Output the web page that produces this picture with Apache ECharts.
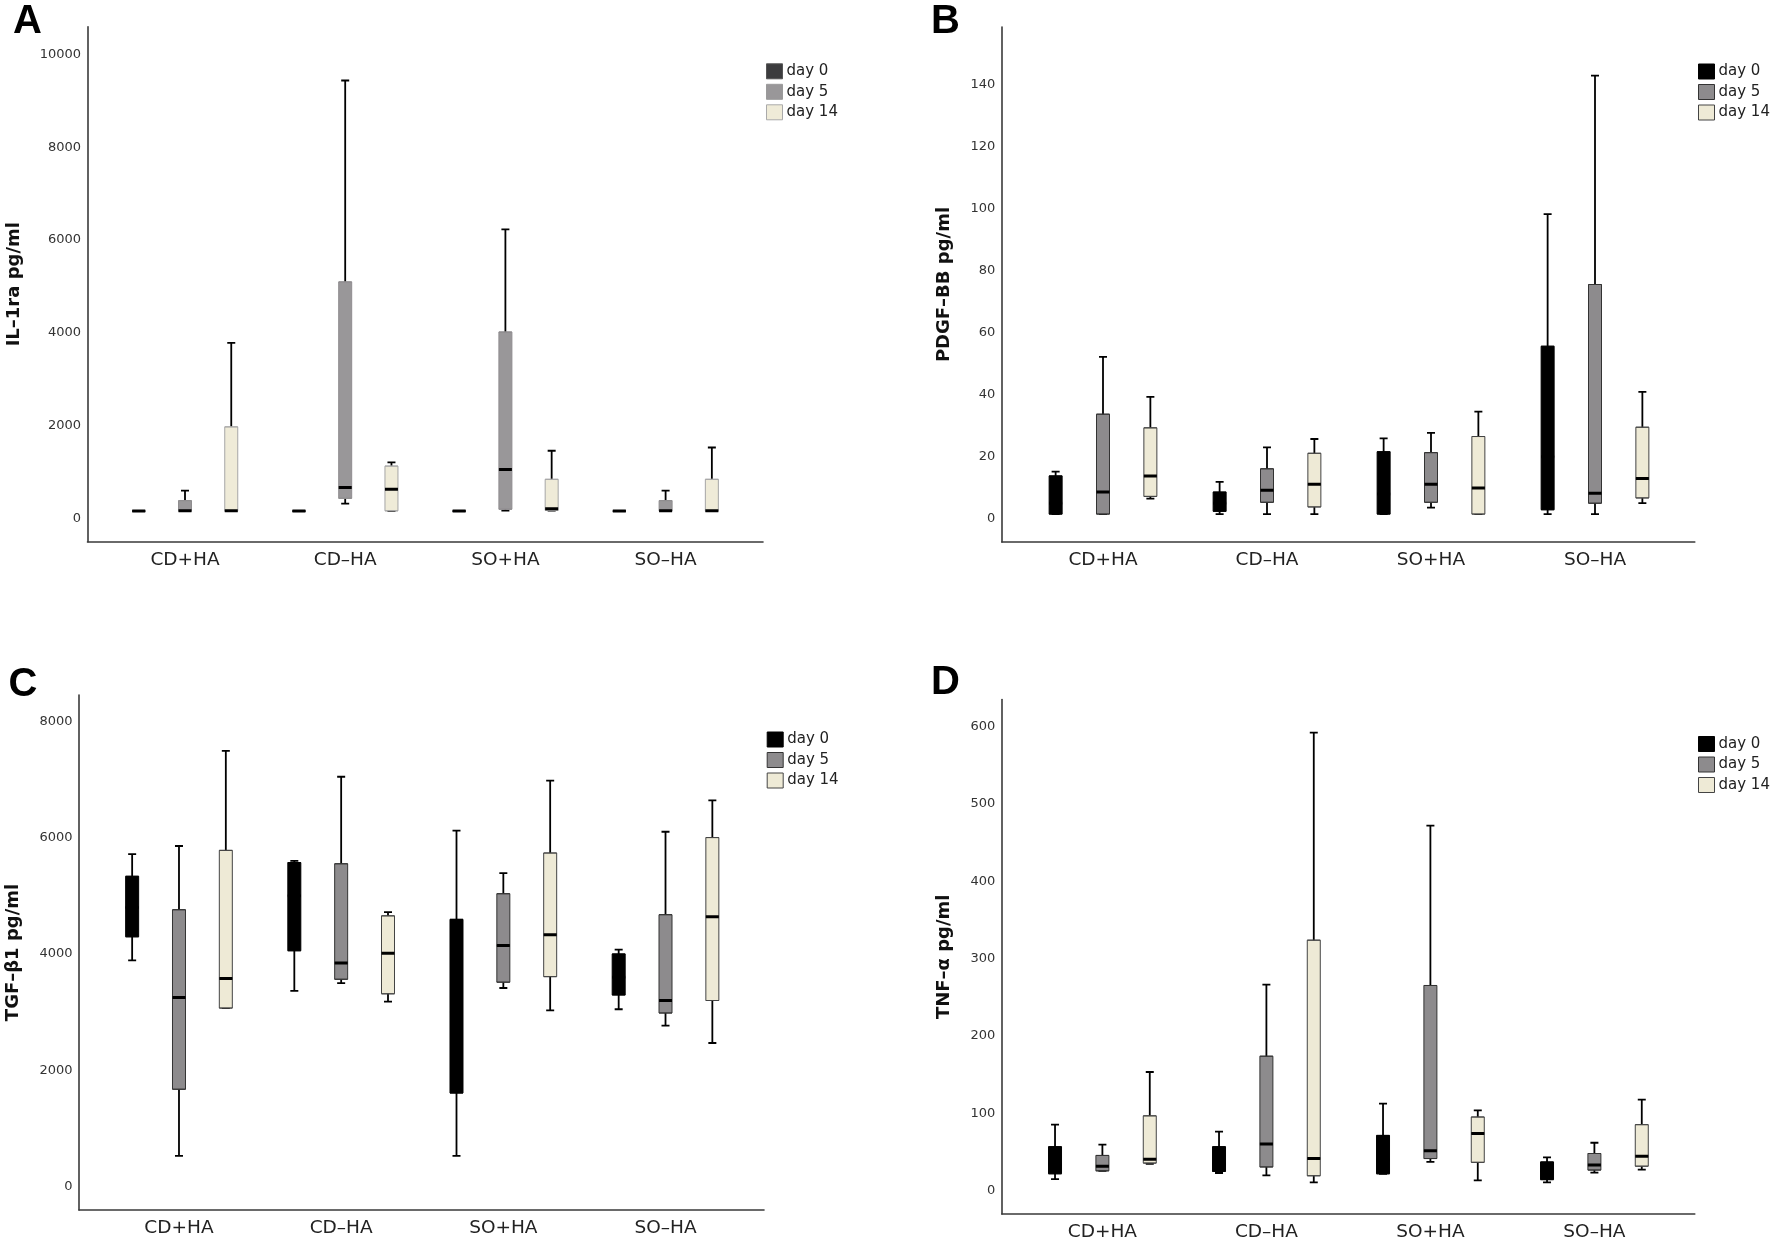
<!DOCTYPE html>
<html><head><meta charset="utf-8">
<script src="https://cdn.jsdelivr.net/npm/echarts@6/dist/echarts.min.js"></script>
<style>html,body{margin:0;padding:0;background:#fff}#c{width:1772px;height:1243px}</style>
</head><body><div id="c"></div>
<script>
// ---------- DATA ----------
const categories = ['CD+HA', 'CD–HA', 'SO+HA', 'SO–HA'];
const dayNames = ['day 0', 'day 5', 'day 14'];
// each item: [min, q1, median, q3, max]
const il1raDay0  = [[160,160,160,160,160],[160,160,160,160,160],[160,160,160,160,160],[160,160,160,160,160]];
const il1raDay5  = [[160,160,165,385,600],[320,435,670,5100,9440],[170,200,1055,4020,6230],[160,160,165,385,600]];
const il1raDay14 = [[160,160,165,1975,3785],[160,165,630,1130,1210],[170,175,210,845,1460],[160,160,165,845,1530]];

const pdgfDay0  = [[1.5,1.5,5,13.8,15.2],[1.5,2.4,5,8.6,11.9],[1.5,1.5,8,21.6,25.9],[1.5,2.9,20,55.6,98.2]];
const pdgfDay5  = [[1.5,1.5,8.6,33.7,52.2],[1.5,5.3,9.2,16.1,23.0],[3.6,5.3,11.1,21.3,27.7],[1.5,5.0,8.2,75.5,142.8]];
const pdgfDay14 = [[6.5,7.2,13.8,29.3,39.3],[1.5,3.8,11.1,21.1,25.7],[1.5,1.5,9.9,26.5,34.5],[5.0,6.7,13.0,29.5,40.9]];

const tgfDay0  = [[3890,4295,4800,5335,5715],[3365,4055,5000,5570,5600],[530,1610,3000,4595,6120],[3050,3295,3600,4000,4075]];
const tgfDay5  = [[530,1675,3250,4760,5855],[3500,3565,3845,5550,7045],[3415,3515,4145,5035,5390],[2770,2985,3200,4675,6100]];
const tgfDay14 = [[3070,3070,3580,5780,7490],[3180,3315,4010,4655,4720],[3030,3610,4330,5735,6980],[2470,3200,4640,6000,6640]];

const tnfDay0  = [[15,22,35,57,85.5],[23,25,35,57,76.5],[22,22,40,71.6,112.8],[11,14.4,25,37.3,43.2]];
const tnfDay5  = [[25.8,25.8,31.8,45.7,59.6],[20,30.8,60.6,174,266.4],[37.3,41.7,51.7,265.4,472],[23.4,26.8,33.3,48.2,62.1]];
const tnfDay14 = [[34.8,35.8,40.8,96.9,153.6],[11,19.4,41.7,324,592.4],[13.4,36.8,74.1,95.4,103.9],[27.3,31.8,44.7,85.5,117.8]];

const il1raTicks = [0,2000,4000,6000,8000,10000];
const pdgfTicks  = [0,20,40,60,80,100,120,140];
const tgfTicks   = [0,2000,4000,6000,8000];
const tnfTicks   = [0,100,200,300,400,500,600];

const yNames = ['IL–1ra pg/ml', 'PDGF–BB pg/ml', 'TGF–β1 pg/ml', 'TNF–α pg/ml'];

// ---------- LAYOUT / STYLE ----------
const FONT = 'DejaVu Sans';
const styleLight = { fill: ['#3c3c3e', '#999799', '#efebd8'], border: ['#3c3c3e', '#8f8d8f', '#a6a6a6'], legendBorder: ['#555555', '#9a9a9a', '#aaaaaa'] };
const styleDark  = { fill: ['#000000', '#8d8b8d', '#eeead6'], border: ['#000000', '#333333', '#444444'], legendBorder: ['#000000', '#333333', '#444444'] };

const panels = [
  { letter: 'A', lx: 13, ly: 2, frame: { left: 87.5, top: 26.7, width: 675.5, height: 515 }, data: { left: 104.9, width: 640.8 },
    min: -500, max: 10600, interval: 500, ticks: il1raTicks, nameGap: 64, legend: { left: 766, top: 63.3 }, style: styleLight,
    series: [il1raDay0, il1raDay5, il1raDay14] },
  { letter: 'B', lx: 931, ly: 2, frame: { left: 1001.8, top: 27, width: 693, height: 515 }, data: { left: 1021, width: 656 },
    min: -7.5, max: 158.5, interval: 2.5, ticks: pdgfTicks, nameGap: 48.5, legend: { left: 1698, top: 63.5 }, style: styleDark,
    series: [pdgfDay0, pdgfDay5, pdgfDay14] },
  { letter: 'C', lx: 8.5, ly: 665, frame: { left: 79, top: 695, width: 685, height: 515 }, data: { left: 97.9, width: 648.7 },
    min: -400, max: 8450, interval: 200, ticks: tgfTicks, nameGap: 57, legend: { left: 766.7, top: 731.5 }, style: styleDark,
    series: [tgfDay0, tgfDay5, tgfDay14] },
  { letter: 'D', lx: 931, ly: 663, frame: { left: 1001.8, top: 699.6, width: 693, height: 514.4 }, data: { left: 1020.4, width: 656 },
    min: -30, max: 635, interval: 10, ticks: tnfTicks, nameGap: 48.5, legend: { left: 1698, top: 736 }, style: styleDark,
    series: [tnfDay0, tnfDay5, tnfDay14] }
];

// ---------- BUILD ----------
const option = { animation: false, backgroundColor: '#ffffff', title: [], legend: [], grid: [], xAxis: [], yAxis: [], series: [] };
const axisLineStyle = { color: '#3a3a3a', width: 1.6 };

panels.forEach((p, pi) => {
  option.title.push({ text: p.letter, left: p.lx, top: p.ly, padding: 0,
    textStyle: { fontFamily: 'Liberation Sans', fontWeight: 'bold', fontSize: 40, color: '#000' } });

  const frameGrid = option.grid.length;
  option.grid.push({ left: p.frame.left, top: p.frame.top, width: p.frame.width, height: p.frame.height, containLabel: false });
  const dataGrid = option.grid.length;
  option.grid.push({ left: p.data.left, top: p.frame.top, width: p.data.width, height: p.frame.height, containLabel: false });

  // frame axes
  option.xAxis.push({ type: 'value', gridIndex: frameGrid, min: 0, max: 1,
    axisLine: { show: true, onZero: false, lineStyle: axisLineStyle }, axisTick: { show: false }, axisLabel: { show: false }, splitLine: { show: false } });
  const ticks = p.ticks;
  option.yAxis.push({ type: 'value', gridIndex: frameGrid, min: p.min, max: p.max, interval: p.interval,
    axisLine: { show: true, onZero: false, lineStyle: axisLineStyle }, axisTick: { show: false }, splitLine: { show: false },
    axisLabel: { margin: 6.5, fontSize: 13, color: '#333', fontFamily: FONT,
      formatter: v => ticks.some(t => Math.abs(t - v) < 1e-6) ? String(Math.round(v)) : '' },
    name: yNames[pi], nameLocation: 'middle', nameGap: p.nameGap,
    nameTextStyle: { fontFamily: FONT, fontWeight: 'bold', fontSize: 18, color: '#111' } });

  // data axes: box layer (labels), whisker layer, median layer
  const xBox = option.xAxis.length;
  option.xAxis.push({ type: 'category', gridIndex: dataGrid, data: categories,
    axisLine: { show: false, onZero: false }, axisTick: { show: false }, splitLine: { show: false },
    axisLabel: { margin: 9, fontSize: 18.5, color: '#222', fontFamily: FONT } });
  const xWhisk = option.xAxis.length;
  option.xAxis.push({ type: 'category', gridIndex: dataGrid, data: categories, show: false, axisLine: { onZero: false } });
  const xMed = option.xAxis.length;
  option.xAxis.push({ type: 'category', gridIndex: dataGrid, data: categories, show: false, axisLine: { onZero: false } });
  const yData = option.yAxis.length;
  option.yAxis.push({ type: 'value', gridIndex: dataGrid, min: p.min, max: p.max, interval: p.interval, show: false, splitLine: { show: false } });

  const legendData = [];
  p.series.forEach((vals, d) => {
    const st = p.style;
    option.series.push({ type: 'boxplot', name: dayNames[d], xAxisIndex: xBox, yAxisIndex: yData, z: 3, silent: true,
      boxWidth: [13, 13], data: vals.map(v => [v[1], v[1], v[2], v[3], v[3]]),
      itemStyle: { color: st.fill[d], borderColor: st.border[d], borderWidth: 1 } });
    option.series.push({ type: 'boxplot', name: 'w' + pi + d, xAxisIndex: xWhisk, yAxisIndex: yData, z: 2, silent: true,
      boxWidth: [8, 8], data: vals.map(v => [v[0], v[2], v[2], v[2], v[4]]),
      itemStyle: { color: '#000', borderColor: '#000', borderWidth: 1.8 } });
    option.series.push({ type: 'boxplot', name: 'm' + pi + d, xAxisIndex: xMed, yAxisIndex: yData, z: 4, silent: true,
      boxWidth: [13, 13], data: vals.map(v => [v[2], v[2], v[2], v[2], v[2]]),
      itemStyle: { color: '#000', borderColor: '#000', borderWidth: 3 } });
    legendData.push({ name: dayNames[d], itemStyle: { color: st.fill[d], borderColor: st.legendBorder[d], borderWidth: 1 } });
  });

  option.legend.push({ left: p.legend.left, top: p.legend.top, orient: 'vertical', icon: 'rect', padding: 0,
    itemWidth: 16, itemHeight: 15, itemGap: 4.5, selectedMode: false, data: legendData,
    textStyle: { fontFamily: FONT, fontSize: 15, color: '#222', padding: [0, 0, 0, -1] } });
});

const chart = echarts.init(document.getElementById('c'), null, { renderer: 'canvas' });
chart.setOption(option);
</script>
</body></html>
